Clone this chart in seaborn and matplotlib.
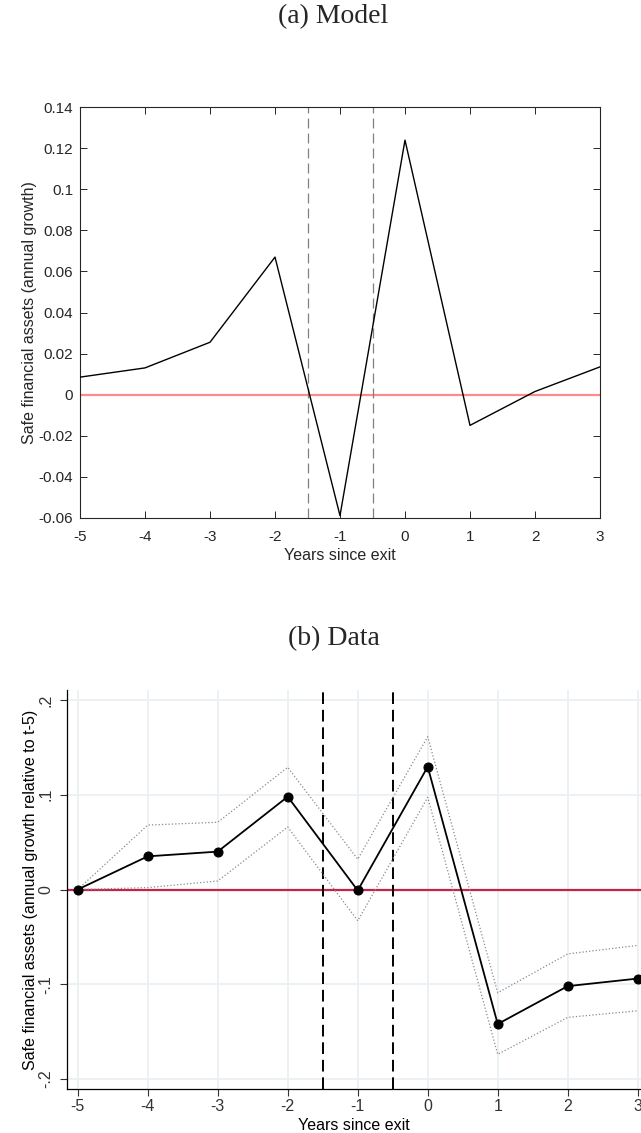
import numpy as np
import pandas as pd
import matplotlib
matplotlib.use('Agg')
import matplotlib.pyplot as plt
import seaborn as sns

# Data
years = [-5, -4, -3, -2, -1, 0, 1, 2, 3]
model_growth = [0.0085, 0.013, 0.0255, 0.067, -0.059, 0.124, -0.015, 0.0015, 0.0135]
data_growth = [0.0, 0.035, 0.040, 0.098, -0.001, 0.1296, -0.142, -0.102, -0.094]
data_upper = [0.0, 0.068, 0.071, 0.129, 0.032, 0.1613, -0.109, -0.068, -0.059]
data_lower = [0.0, 0.002, 0.009, 0.066, -0.033, 0.0973, -0.174, -0.135, -0.128]
exit_window = [-1.5, -0.5]

top_yticks = [0.14, 0.12, 0.1, 0.08, 0.06, 0.04, 0.02, 0, -0.02, -0.04, -0.06]
top_ylabels = ['0.14', '0.12', '0.1', '0.08', '0.06', '0.04', '0.02', '0', '-0.02', '-0.04', '-0.06']
bot_yticks = [0.2, 0.1, 0, -0.1, -0.2]
bot_ylabels = ['.2', '.1', '0', '-.1', '-.2']

df_model = pd.DataFrame({'year': years, 'growth': model_growth})
df_data = pd.DataFrame({'year': years, 'growth': data_growth,
                        'upper': data_upper, 'lower': data_lower})

sns.set_style('white')
plt.rcParams['font.family'] = ['Liberation Sans', 'DejaVu Sans']

fig = plt.figure(figsize=(6.41, 11.33), dpi=100)

# ---------------- (a) Model : MATLAB look ----------------
ax1 = fig.add_axes([80 / 641, 1 - 517.7 / 1133, 520 / 641, 410.4 / 1133])
ax1.axhline(0, color='#ff8a8a', lw=1.6, zorder=1)
for xv in exit_window:
    ax1.axvline(xv, color='#808080', lw=0.9, ls=(0, (8, 4)), zorder=1)
sns.lineplot(data=df_model, x='year', y='growth', ax=ax1, color='black', lw=1.0, zorder=3)
ax1.set_xlim(-5, 3)
ax1.set_ylim(-0.06, 0.14)
ax1.set_xticks(years)
ax1.set_xticklabels([str(y) for y in years])
ax1.set_yticks(top_yticks)
ax1.set_yticklabels(top_ylabels)
ax1.tick_params(direction='in', length=5, width=0.7, colors='#262626', labelsize=11,
                top=True, right=True, bottom=True, left=True)
ax1.tick_params(axis='x', pad=9)
ax1.tick_params(axis='y', pad=5)
for s in ax1.spines.values():
    s.set_color('#262626')
    s.set_linewidth(0.8)
ax1.set_xlabel('Years since exit', fontsize=11.5, color='#262626', labelpad=3)
ax1.set_ylabel('Safe financial assets (annual growth)', fontsize=11.5, color='#262626', labelpad=1)

# ---------------- (b) Data : Stata look ----------------
ax2 = fig.add_axes([67.3 / 641, 1 - 1089.3 / 1133, (641 - 67.3) / 641, 399.3 / 1133])
ax2.set_xlim(-5.149, 3.047)
ax2.set_ylim(-0.2109, 0.2106)
ax2.set_xticks(years)
ax2.set_xticklabels([str(y) for y in years])
ax2.set_yticks(bot_yticks)
ax2.set_yticklabels(bot_ylabels, rotation=90, va='center')
ax2.grid(True, color='#eaf1f3', lw=1.3)
ax2.set_axisbelow(True)
ax2.axhline(0, color='#c3244a', lw=1.6, zorder=2)
for xv in exit_window:
    ax2.axvline(xv, color='black', lw=1.4, ls=(0, (6, 3)), zorder=2)
sns.lineplot(data=df_data, x='year', y='upper', ax=ax2, color='#8a8a8a', lw=0.9, ls=':', zorder=3)
sns.lineplot(data=df_data, x='year', y='lower', ax=ax2, color='#8a8a8a', lw=0.9, ls=':', zorder=3)
sns.lineplot(data=df_data, x='year', y='growth', ax=ax2, color='black', lw=1.3,
             marker='o', markersize=6.5, markeredgecolor='black', zorder=4)
ax2.tick_params(direction='out', length=5, width=0.8, colors='#333333', labelsize=11.5,
                bottom=True, left=True)
ax2.tick_params(axis='x', pad=2)
ax2.tick_params(axis='y', pad=5)
ax2.spines['top'].set_visible(False)
ax2.spines['right'].set_visible(False)
ax2.spines['left'].set_color('black')
ax2.spines['bottom'].set_color('black')
ax2.spines['left'].set_linewidth(0.9)
ax2.spines['bottom'].set_linewidth(0.9)
ax2.set_xlabel('Years since exit', fontsize=11.5, color='black', labelpad=3)
ax2.set_ylabel('Safe financial assets (annual growth relative to t-5)', fontsize=11.5,
               color='black', labelpad=0)

# panel titles
fig.text(333.5 / 641, 1 - 17 / 1133, '(a) Model', ha='center', va='center',
         fontsize=20, family=['Liberation Serif', 'DejaVu Serif'])
fig.text(333.5 / 641, 1 - 639 / 1133, '(b) Data', ha='center', va='center',
         fontsize=20, family=['Liberation Serif', 'DejaVu Serif'])

fig.savefig('out.png', dpi=100)
